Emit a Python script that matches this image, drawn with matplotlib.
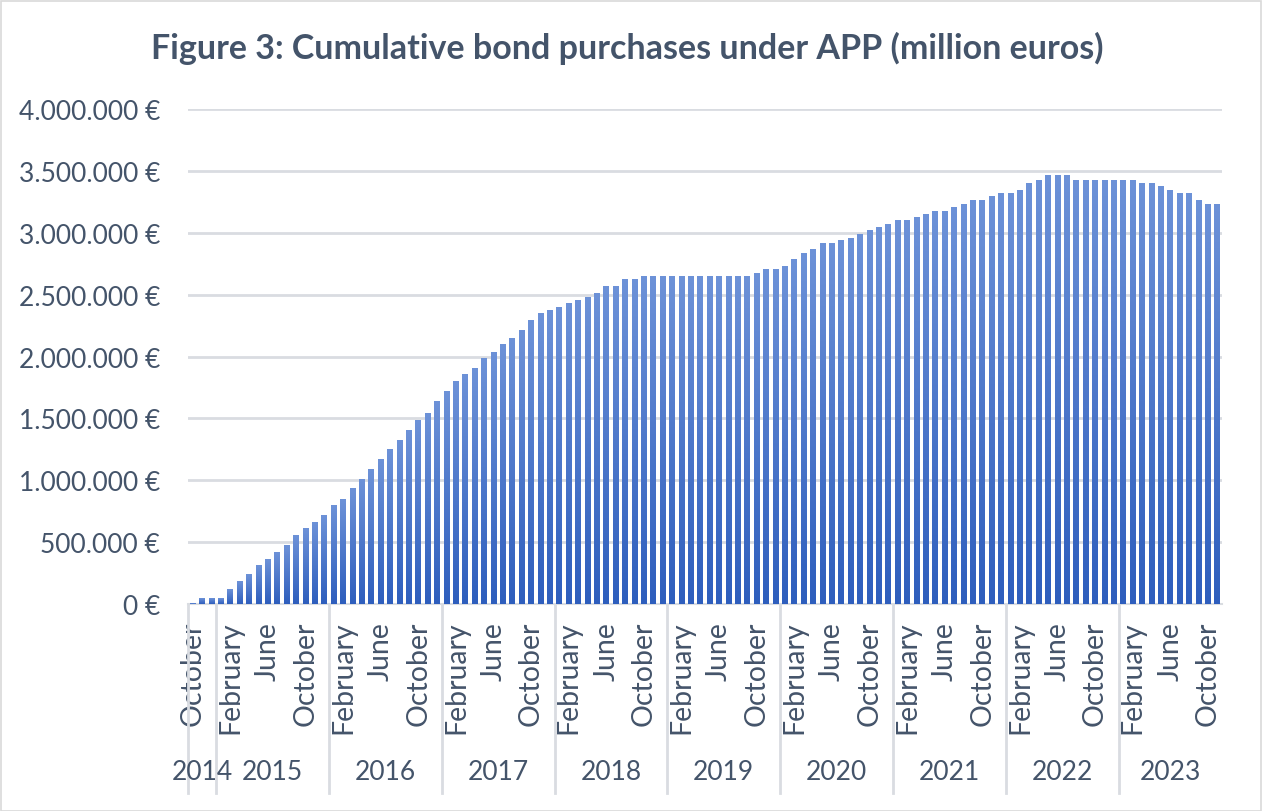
import numpy as np
import matplotlib
matplotlib.use("Agg")
import matplotlib.pyplot as plt
from matplotlib.patches import Rectangle
from matplotlib.colors import LinearSegmentedColormap
import matplotlib.transforms as mtransforms

plt.rcParams['font.family'] = ['Lato', 'DejaVu Sans']

# ---- data (million euros), monthly Oct 2014 .. Nov 2023 ----
years = ["2014", "2015", "2016", "2017", "2018", "2019", "2020", "2021", "2022", "2023"]
months_per_year = [3, 12, 12, 12, 12, 12, 12, 12, 12, 11]
month_names = ["January", "February", "March", "April", "May", "June", "July",
               "August", "September", "October", "November", "December"]

v2014 = [5000, 45000, 45000]
v2015 = [45000, 119000, 183000, 240000, 313000, 361000, 418000, 474000, 555000, 612000, 660000, 717000]
v2016 = [797000, 846000, 935000, 1007000, 1088000, 1169000, 1250000, 1328000, 1405000, 1484000, 1540000, 1643000]
v2017 = [1722000, 1802000, 1857000, 1905000, 1984000, 2040000, 2099000, 2153000, 2211000, 2293000, 2351000, 2376000]
v2018 = [2401000, 2434000, 2459000, 2484000, 2517000, 2566000, 2566000, 2623000, 2623000, 2647000, 2647000, 2647000]
v2019 = [2647000, 2647000, 2647000, 2647000, 2647000, 2647000, 2647000, 2647000, 2647000, 2671000, 2704000, 2704000]
v2020 = [2728000, 2785000, 2833000, 2865000, 2914000, 2914000, 2940000, 2961000, 2986000, 3019000, 3044000, 3069000]
v2021 = [3103000, 3103000, 3128000, 3153000, 3178000, 3178000, 3211000, 3236000, 3261000, 3261000, 3295000, 3320000]
v2022 = [3320000, 3346000, 3405000, 3430000, 3464000, 3464000, 3464000, 3430000, 3430000, 3430000, 3430000, 3430000]
v2023 = [3430000, 3430000, 3405000, 3405000, 3379000, 3346000, 3320000, 3320000, 3261000, 3236000, 3236000]

values = v2014 + v2015 + v2016 + v2017 + v2018 + v2019 + v2020 + v2021 + v2022 + v2023
month_idx = list(range(9, 12)) + list(range(12)) * 8 + list(range(11))

yticks = [0, 500000, 1000000, 1500000, 2000000, 2500000, 3000000, 3500000, 4000000]

TXT = "#44546A"
GRID = "#D9DCE1"

def fmt_eur(v):
    return "{:,}".format(int(v)).replace(",", ".") + " €"

fig = plt.figure(figsize=(12.62, 8.12), dpi=100)
ax = fig.add_axes([188 / 1262, (812 - 605) / 812, (1222 - 188) / 1262, (605 - 110) / 812])

x = np.arange(len(values))
bars = ax.bar(x, values, width=0.6, color="none", edgecolor="none", zorder=3)

cmap = LinearSegmentedColormap.from_list("g", ["#2E5EBD", "#6D92D8"])
grad = np.linspace(0, 1, 256).reshape(-1, 1)
for b in bars:
    h = b.get_height()
    if h <= 0:
        continue
    x0 = b.get_x()
    im = ax.imshow(grad, extent=[x0, x0 + b.get_width(), 0, h], origin="lower",
                   aspect="auto", cmap=cmap, zorder=3, interpolation="bilinear")
    im.set_clip_path(b)

ax.set_xlim(-0.5, len(values) - 0.5)
ax.set_ylim(0, 4000000)
ax.set_yticks(yticks)
ax.set_yticklabels([fmt_eur(v) for v in yticks])
ax.yaxis.grid(True, color=GRID, linewidth=2.0, zorder=0)
ax.set_axisbelow(True)
for s in ["top", "right", "left"]:
    ax.spines[s].set_visible(False)
ax.spines["bottom"].set_color(GRID)
ax.spines["bottom"].set_linewidth(1.5)
ax.tick_params(axis="y", length=0, pad=20, labelsize=19, labelcolor=TXT)

tick_pos = [i for i in range(len(values)) if i % 4 == 0]
ax.set_xticks(tick_pos)
ax.set_xticklabels([month_names[month_idx[i]] for i in tick_pos], rotation=90,
                   va="top", ha="center")
ax.tick_params(axis="x", length=0, pad=12, labelsize=20.5, labelcolor=TXT)

trans = mtransforms.blended_transform_factory(ax.transData, ax.transAxes)
start = -0.5
bounds = [start]
for n in months_per_year:
    bounds.append(bounds[-1] + n)
y_sep = -0.382
y_year = -0.339
for k, yr in enumerate(years):
    ax.plot([bounds[k], bounds[k]], [0, y_sep], transform=trans, color=GRID,
            linewidth=2.0, clip_on=False, zorder=1)
    ax.text((bounds[k] + bounds[k + 1]) / 2, y_year, yr, transform=trans,
            ha="center", va="center", fontsize=19, color=TXT)

fig.text(0.497, 1 - 48 / 812, "Figure 3: Cumulative bond purchases under APP (million euros)",
         ha="center", va="center", fontsize=24.5, fontweight="bold", color=TXT)

fig.add_artist(Rectangle((0.5 / 1262, 0.5 / 812), 1 - 2 / 1262, 1 - 2 / 812,
                         transform=fig.transFigure, fill=False, edgecolor="#D9D9D9",
                         linewidth=1.2))

fig.savefig("out.png", dpi=100)
